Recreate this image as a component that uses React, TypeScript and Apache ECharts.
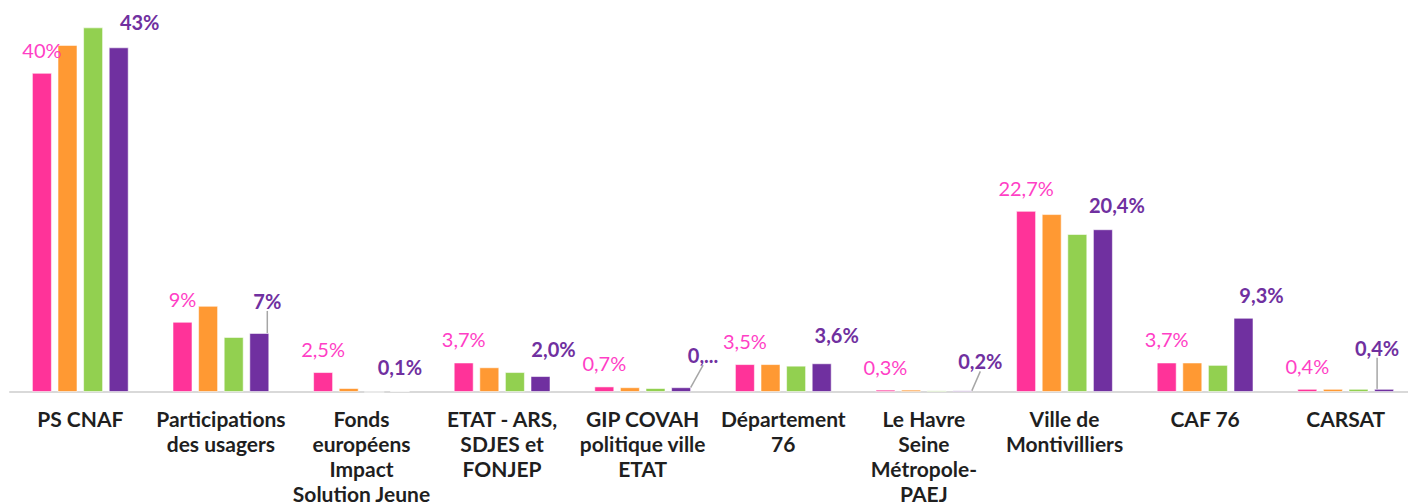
import React, { useEffect, useRef } from "react";
import * as echarts from "echarts";

const categories = [
  "PS CNAF",
  "Participations\ndes usagers",
  "Fonds\neuropéens\nImpact\nSolution Jeune",
  "ETAT - ARS,\nSDJES et\nFONJEP",
  "GIP COVAH\npolitique ville\nETAT",
  "Département\n76",
  "Le Havre\nSeine\nMétropole-\nPAEJ",
  "Ville de\nMontivilliers",
  "CAF 76",
  "CARSAT",
];

const seriesPink = [40.0, 8.8, 2.5, 3.7, 0.7, 3.5, 0.3, 22.7, 3.7, 0.4];
const seriesOrange = [43.5, 10.8, 0.5, 3.1, 0.6, 3.5, 0.3, 22.3, 3.7, 0.4];
const seriesGreen = [45.7, 6.9, 0, 2.5, 0.5, 3.3, 0.2, 19.8, 3.4, 0.4];
const seriesPurple = [43.2, 7.4, 0.1, 2.0, 0.6, 3.6, 0.2, 20.4, 9.3, 0.4];

// decimals shown in labels per category
const labelDecimals = [0, 0, 1, 1, 1, 1, 1, 1, 1, 1];
// purple labels truncated in the source
const truncatedPurple: Record<number, string> = { 4: "0,..." };
// purple labels that show a leader line
const purpleLeader = [false, true, false, false, true, false, true, false, false, true];
// purple label shifts (label placement)
const purpleShift = [
  [21, -10],
  [8, -17],
  [0, -9],
  [13, -12],
  [22, -17],
  [15, -13],
  [18, -14],
  [14, -9],
  [18, -8],
  [-7, -26],
];

const fmt = (v: number, i: number) =>
  v.toFixed(labelDecimals[i]).replace(".", ",") + "%";

export default function App() {
  const ref = useRef<HTMLDivElement>(null);
  useEffect(() => {
    if (!ref.current) return;
    const chart = echarts.init(ref.current, null, { renderer: "svg" });
    const barBorder = { borderColor: "rgba(255,255,255,0.55)", borderWidth: 1 };
    chart.setOption({
      animation: false,
      textStyle: { fontFamily: "Lato" },
      grid: {
        left: 10,
        right: 4,
        top: 9,
        bottom: 112,
        containLabel: false,
        outerBoundsMode: "none",
      },
      xAxis: {
        type: "category",
        data: categories,
        axisLine: { show: true, lineStyle: { color: "#D9D9D9", width: 2 } },
        axisTick: { show: false },
        axisLabel: {
          interval: 0,
          fontFamily: "Lato",
          fontWeight: "bold",
          fontSize: 21,
          lineHeight: 25,
          color: "#1F1F1F",
          margin: 14,
        },
      },
      yAxis: {
        type: "value",
        min: 0,
        max: 48,
        show: false,
        splitLine: { show: false },
      },
      series: [
        {
          type: "bar",
          data: seriesPink,
          barWidth: 20,
          barGap: "28%",
          itemStyle: { color: "#FF3399", ...barBorder },
          label: {
            show: true,
            position: "top",
            distance: 13,
            fontFamily: "Lato",
            fontSize: 20,
            color: "#FF3FC6",
            formatter: (p: any) => fmt(p.value, p.dataIndex),
          },
        },
        {
          type: "bar",
          data: seriesOrange,
          barWidth: 20,
          barGap: "28%",
          itemStyle: { color: "#FF9933", ...barBorder },
        },
        {
          type: "bar",
          data: seriesGreen,
          barWidth: 20,
          barGap: "28%",
          itemStyle: { color: "#92D050", ...barBorder },
        },
        {
          type: "bar",
          data: seriesPurple.map((v, i) => ({
            value: v,
            labelLine: { show: purpleLeader[i] },
          })),
          barWidth: 20,
          barGap: "28%",
          itemStyle: { color: "#7030A0", ...barBorder },
          label: {
            show: true,
            position: "top",
            distance: 5,
            fontFamily: "Lato",
            fontWeight: "bold",
            fontSize: 20,
            color: "#7030A0",
            formatter: (p: any) =>
              truncatedPurple[p.dataIndex] ?? fmt(p.value, p.dataIndex),
          },
          labelLine: {
            show: true,
            lineStyle: { color: "#A6A6A6", width: 1.5 },
          },
          labelLayout: (p: any) => ({
            dx: purpleShift[p.dataIndex][0],
            dy: purpleShift[p.dataIndex][1],
          }),
        },
      ],
    });
    return () => chart.dispose();
  }, []);
  return (
    <div
      style={{
        position: "fixed",
        left: 0,
        top: 0,
        width: 1408,
        height: 504,
        overflow: "hidden",
        background: "#fff",
      }}
    >
      <div ref={ref} style={{ width: 1420, height: 504 }} />
    </div>
  );
}
